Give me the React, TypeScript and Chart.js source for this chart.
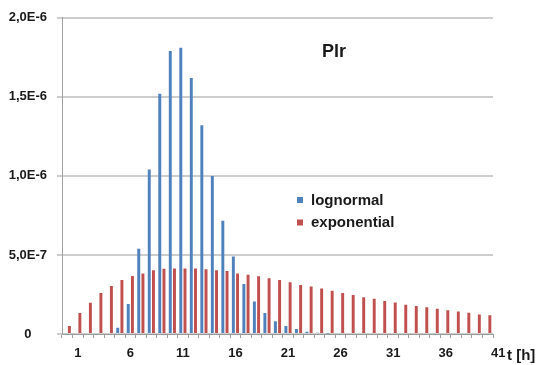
import React, { useEffect, useRef } from 'react';
import { Chart, registerables } from 'chart.js';

Chart.register(...registerables);

const HOURS = [
  '0', '1', '2', '3', '4', '5', '6', '7', '8', '9',
  '10', '11', '12', '13', '14', '15', '16', '17', '18', '19',
  '20', '21', '22', '23', '24', '25', '26', '27', '28', '29',
  '30', '31', '32', '33', '34', '35', '36', '37', '38', '39', '40',
];

const LOGNORMAL = [
  0, 0, 0, 0, 0, 3.9e-8, 1.9e-7, 5.4e-7, 1.04e-6, 1.52e-6,
  1.79e-6, 1.81e-6, 1.62e-6, 1.32e-6, 1.0e-6, 7.17e-7, 4.9e-7, 3.17e-7, 2.06e-7, 1.33e-7,
  8.1e-8, 5.0e-8, 3.1e-8, 1.5e-8, 8e-9, 3e-9, 0, 0, 0, 0,
  0, 0, 0, 0, 0, 0, 0, 0, 0, 0, 0,
];

const EXPONENTIAL = [
  5.0e-8, 1.33e-7, 1.98e-7, 2.6e-7, 3.04e-7, 3.42e-7, 3.67e-7, 3.83e-7, 4.04e-7, 4.12e-7,
  4.15e-7, 4.15e-7, 4.15e-7, 4.1e-7, 4.04e-7, 3.98e-7, 3.83e-7, 3.75e-7, 3.65e-7, 3.52e-7,
  3.42e-7, 3.27e-7, 3.1e-7, 3.0e-7, 2.88e-7, 2.73e-7, 2.6e-7, 2.46e-7, 2.33e-7, 2.23e-7,
  2.08e-7, 2.0e-7, 1.85e-7, 1.77e-7, 1.69e-7, 1.6e-7, 1.5e-7, 1.42e-7, 1.35e-7, 1.23e-7, 1.19e-7,
];

const X_TICK_LABELS = ['1', '6', '11', '16', '21', '26', '31', '36', '41'];
const Y_TICK_LABELS = ['0', '5,0E-7', '1,0E-6', '1,5E-6', '2,0E-6'];
const SERIES_NAMES = ['lognormal', 'exponential'];
const TITLE = 'Plr';
const X_TITLE = 't [h]';

const FONT = '"Liberation Sans", Arial, sans-serif';
const TEXT = '#1a1a1a';

const overlayPlugin = {
  id: 'overlay',
  afterDraw(chart: any) {
    const { ctx } = chart;
    ctx.save();
    ctx.fillStyle = TEXT;
    ctx.textBaseline = 'middle';
    // title
    ctx.font = `bold 18px ${FONT}`;
    ctx.textAlign = 'center';
    ctx.fillText(TITLE, 334, 52);
    // legend
    ctx.font = `bold 15px ${FONT}`;
    ctx.textAlign = 'left';
    chart.data.datasets.forEach((ds: any, i: number) => {
      const y = 200 + i * 22.5;
      ctx.fillStyle = ds.backgroundColor;
      ctx.fillRect(297, y - 3, 6, 6);
      ctx.fillStyle = TEXT;
      ctx.fillText(ds.label, 311, y + 0.5);
    });
    // x axis title
    ctx.font = `bold 15px ${FONT}`;
    ctx.fillText(X_TITLE, 507, 356);
    ctx.restore();
  },
};

export default function App() {
  const ref = useRef<HTMLCanvasElement | null>(null);

  useEffect(() => {
    if (!ref.current) return;
    const chart = new Chart(ref.current, {
      type: 'bar',
      data: {
        labels: HOURS,
        datasets: [
          {
            label: SERIES_NAMES[0],
            data: LOGNORMAL,
            backgroundColor: '#4F81BD',
            borderWidth: 0,
            categoryPercentage: 0.8,
            barPercentage: 0.7,
          },
          {
            label: SERIES_NAMES[1],
            data: EXPONENTIAL,
            backgroundColor: '#C0504D',
            borderWidth: 0,
            categoryPercentage: 0.8,
            barPercentage: 0.7,
          },
        ],
      },
      options: {
        responsive: false,
        animation: false,
        layout: { padding: { top: 14, right: 46, left: 0, bottom: 0 } },
        plugins: {
          legend: { display: false },
          title: { display: false },
          tooltip: { enabled: false },
        },
        scales: {
          x: {
            grid: {
              display: true,
              drawOnChartArea: false,
              drawTicks: true,
              tickLength: 4,
              color: '#a0a0a0',
              offset: true,
            },
            border: { display: true, color: '#9a9a9a', width: 1 },
            ticks: {
              autoSkip: false,
              maxRotation: 0,
              minRotation: 0,
              padding: 8,
              color: TEXT,
              font: { family: FONT, size: 13, weight: 'bold' },
              callback: (value: any) => {
                const v = Number(value);
                const lbl = v < HOURS.length ? HOURS[v] : String(v);
                return X_TICK_LABELS.includes(lbl) ? lbl : '';
              },
            },
            afterBuildTicks: (scale: any) => {
              scale.ticks.push({ value: HOURS.length });
            },
            afterFit: (scale: any) => {
              scale.height = 31;
            },
          },
          y: {
            min: 0,
            max: 2e-6,
            ticks: {
              stepSize: 5e-7,
              padding: 10,
              crossAlign: 'center',
              color: TEXT,
              font: { family: FONT, size: 13, weight: 'bold' },
              callback: (_v: any, i: number) => Y_TICK_LABELS[i],
            },
            grid: { color: '#cdcdcd', lineWidth: 2, tickLength: 5 },
            border: { display: true, color: '#a0a0a0', width: 1 },
            afterFit: (scale: any) => {
              scale.width = 62;
            },
          },
        },
      } as any,
      plugins: [overlayPlugin],
    });
    return () => chart.destroy();
  }, []);

  return (
    <div style={{ position: 'fixed', left: 0, top: 0, width: 539, height: 365, background: '#fff' }}>
      <canvas ref={ref} width={539} height={365} />
    </div>
  );
}
